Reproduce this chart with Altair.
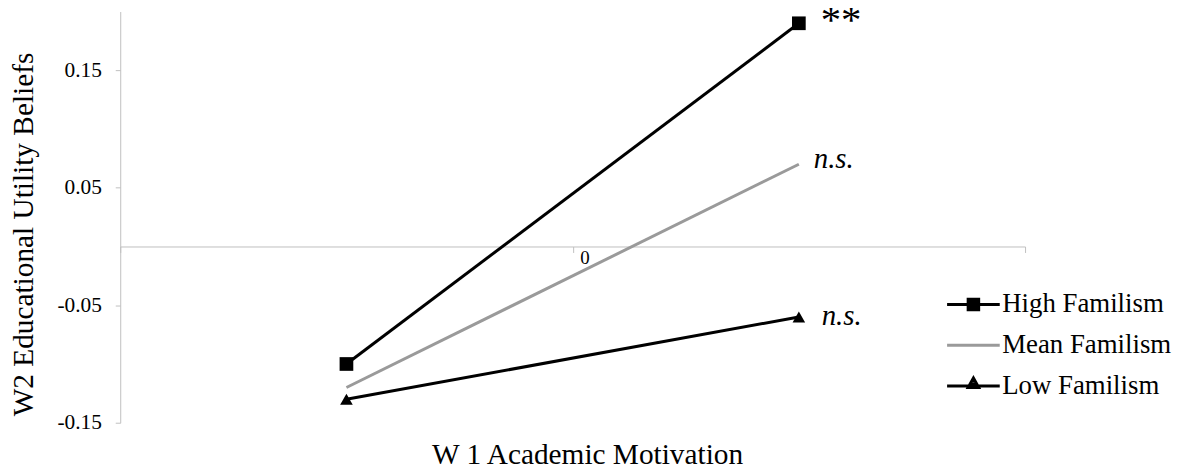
import altair as alt
import pandas as pd

# ---- data ----
series = ["High Familism", "Mean Familism", "Low Familism"]
x_levels = [-1, 1]
high_vals = [-0.10, 0.19]
mean_vals = [-0.12, 0.07]
low_vals = [-0.13, -0.06]
y_ticks = [-0.15, -0.05, 0.05, 0.15]
x_ticks = [-2, 0, 2]
ann_labels = {"High Familism": "**", "Mean Familism": "n.s.", "Low Familism": "n.s."}

colors = ["#000000", "#9a9a9a", "#000000"]
# legend glyphs: a line with a (solid) square / nothing / (solid) triangle on it
legend_paths = [
    "M-1,0H1M-0.2,-0.2H0.2V0.2H-0.2ZM-0.2,-0.1H0.2M-0.2,0.1H0.2",
    "M-1,0H1",
    "M-1,0H1M0,-0.3L0.2,0.06H-0.2ZM-0.133,-0.06H0.133M-0.067,-0.18H0.067",
]

rows = []
for s, vals in zip(series, [high_vals, mean_vals, low_vals]):
    for xv, yv in zip(x_levels, vals):
        rows.append({"series": s, "x": xv, "y": yv})
df = pd.DataFrame(rows)

ann_rows = []
for s, vals in zip(series, [high_vals, mean_vals, low_vals]):
    ann_rows.append({"series": s, "x": x_levels[-1], "y": vals[-1], "label": ann_labels[s]})
df_ann = pd.DataFrame(ann_rows)

FONT = "Liberation Serif"
GREY = "#bfbfbf"

xenc = alt.X(
    "x:Q",
    scale=alt.Scale(domain=[-2, 2], nice=False, zero=False),
    axis=alt.Axis(
        values=x_ticks,
        labelExpr="datum.value == 0 ? '0' : ''",
        offset=-177.43,
        grid=False,
        domainColor=GREY,
        tickColor=GREY,
        tickSize=6,
        labelFont=FONT,
        labelFontSize=19,
        labelColor="#000000",
        labelAlign="center",
        labelOffset=12,
        labelPadding=-4,
        title="W 1 Academic Motivation",
        titleFont=FONT,
        titleFontSize=29.5,
        titleFontWeight="normal",
        titleColor="#000000",
        titleX=470,
        titleY=218,
        titleBaseline="alphabetic",
        titleAlign="center",
    ),
)
yenc = alt.Y(
    "y:Q",
    scale=alt.Scale(domain=[-0.15, 0.2], nice=False, zero=False),
    axis=alt.Axis(
        values=y_ticks,
        labelExpr="replace(format(datum.value, '.2f'), '\u2212', '-')",
        grid=False,
        domainColor=GREY,
        tickColor=GREY,
        tickSize=5,
        labelFont=FONT,
        labelFontSize=21.5,
        labelColor="#000000",
        labelPadding=14,
        title="W2 Educational Utility Beliefs",
        titleFont=FONT,
        titleFontSize=29.5,
        titleFontWeight="normal",
        titleColor="#000000",
        titleX=-88,
        titleY=224,
        titleAngle=-90,
        titleBaseline="alphabetic",
        titleAlign="center",
    ),
)

color_scale = alt.Scale(domain=series, range=colors)

base = alt.Chart(df)

# one line layer per series (constant colour, no scale -> no competing legend)
line_layers = [
    base.transform_filter(alt.datum.series == s).mark_line(strokeWidth=3, color=c).encode(x=xenc, y=yenc)
    for s, c in zip(series, colors)
]

pts_high = base.transform_filter(alt.datum.series == "High Familism").mark_point(
    shape="square", filled=True, size=190, color="#000000", opacity=1
).encode(x=xenc, y=yenc)

pts_low = base.transform_filter(alt.datum.series == "Low Familism").mark_point(
    shape="triangle-up", filled=True, size=160, color="#000000", opacity=1
).encode(x=xenc, y=yenc)

legend_spec = alt.Legend(
    title=None, orient="none", legendX=831, legendY=267, padding=0,
    labelFont=FONT, labelFontSize=27, labelColor="#000000", labelLimit=300,
    symbolSize=2809, symbolStrokeWidth=3, labelOffset=1, rowPadding=-7,
    symbolFillColor="#000000", symbolOpacity=1,
)

# legend-only layer: no data rows drawn, legend comes from the explicit scale domains
legend_layer = base.transform_filter("false").mark_point(filled=False, opacity=1, strokeWidth=3).encode(
    x=xenc, y=yenc,
    color=alt.Color("series:N", scale=color_scale, legend=legend_spec),
    shape=alt.Shape("series:N", scale=alt.Scale(domain=series, range=legend_paths), legend=legend_spec),
)

ann = alt.Chart(df_ann)
ann_star = ann.transform_filter(alt.datum.series == "High Familism").mark_text(
    font=FONT, fontSize=41, align="left", baseline="alphabetic", dx=22, dy=10, color="#000000"
).encode(x=xenc, y=yenc, text="label:N")
ann_mean = ann.transform_filter(alt.datum.series == "Mean Familism").mark_text(
    font=FONT, fontSize=29, fontStyle="italic", align="left", baseline="alphabetic", dx=15, dy=4, color="#000000"
).encode(x=xenc, y=yenc, text="label:N")
ann_low = ann.transform_filter(alt.datum.series == "Low Familism").mark_text(
    font=FONT, fontSize=29, fontStyle="italic", align="left", baseline="alphabetic", dx=23, dy=8, color="#000000"
).encode(x=xenc, y=yenc, text="label:N")

chart = alt.layer(legend_layer, *line_layers, pts_high, pts_low, ann_star, ann_mean, ann_low).properties(
    width=911, height=414,
    autosize=alt.AutoSizeParams(type="none"),
    padding={"left": 113, "top": 2, "right": 157, "bottom": 41},
).configure(background="white").configure_view(strokeWidth=0)

chart.save("out.html", embed_options={"renderer": "svg", "actions": False})
